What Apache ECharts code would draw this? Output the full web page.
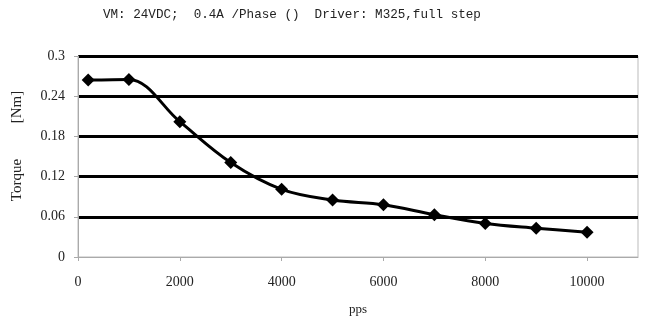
<!DOCTYPE html>
<html><head><meta charset="utf-8">
<script src="https://cdn.jsdelivr.net/npm/echarts@6/dist/echarts.min.js"></script>
<style>html,body{margin:0;padding:0;background:#fff}#c{width:649px;height:335px}</style>
</head><body><div id="c"></div>
<script>
const titleText = 'VM: 24VDC;  0.4A /Phase ()  Driver: M325,full step';
const xName = 'pps';
const yNameMain = 'Torque';
const yNameUnit = '[Nm]';
const speeds = [200, 1000, 2000, 3000, 4000, 5000, 6000, 7000, 8000, 9000, 10000];
const torque = [0.264, 0.265, 0.202, 0.141, 0.101, 0.085, 0.078, 0.063, 0.050, 0.043, 0.037];

const chart = echarts.init(document.getElementById('c'), null, {renderer:'canvas'});
const serif = '"Liberation Serif", "DejaVu Serif", serif';
chart.setOption({
  animation:false,
  backgroundColor:'#fff',
  title:{text:titleText,left:98,top:3,textStyle:{fontFamily:'"Liberation Mono", monospace',fontSize:12.6,fontWeight:'normal',color:'#222'}},
  graphic:[
    {type:'text',x:17,y:180,rotation:Math.PI/2,style:{text:yNameMain,font:'15px '+serif,fill:'#222',textAlign:'center',textVerticalAlign:'middle'}},
    {type:'text',x:17,y:107,rotation:Math.PI/2,style:{text:yNameUnit,font:'15px '+serif,fill:'#222',textAlign:'center',textVerticalAlign:'middle'}}
  ],
  grid:{left:78,right:11,top:56,bottom:78,show:true,borderColor:'#bbb',borderWidth:1},
  xAxis:{type:'value',min:0,max:11000,interval:2000,
    name:xName,nameLocation:'middle',nameGap:46,nameTextStyle:{fontFamily:serif,fontSize:13,color:'#222'},
    axisLine:{lineStyle:{color:'#aaa',width:1}},
    axisTick:{show:true,length:4,lineStyle:{color:'#aaa'}},
    axisLabel:{fontFamily:serif,fontSize:14,color:'#222',margin:18,showMaxLabel:false,formatter:v=>String(v)},
    splitLine:{show:false}},
  yAxis:{type:'value',min:0,max:0.3,interval:0.06,
    axisLine:{show:true,lineStyle:{color:'#aaa',width:1}},
    axisTick:{show:true,length:4,lineStyle:{color:'#aaa'}},
    axisLabel:{fontFamily:serif,fontSize:14,color:'#222',margin:13,formatter:v=>String(+v.toFixed(2))},
    splitLine:{show:true,lineStyle:{color:['rgba(0,0,0,0)','#000','#000','#000','#000','#000'],width:3}}},
  series:[{type:'line',data:speeds.map((s,i)=>[s,torque[i]]),smooth:0.35,
    symbol:'diamond',symbolSize:13,itemStyle:{color:'#000'},
    lineStyle:{color:'#000',width:3},z:5}]
});
</script></body></html>
